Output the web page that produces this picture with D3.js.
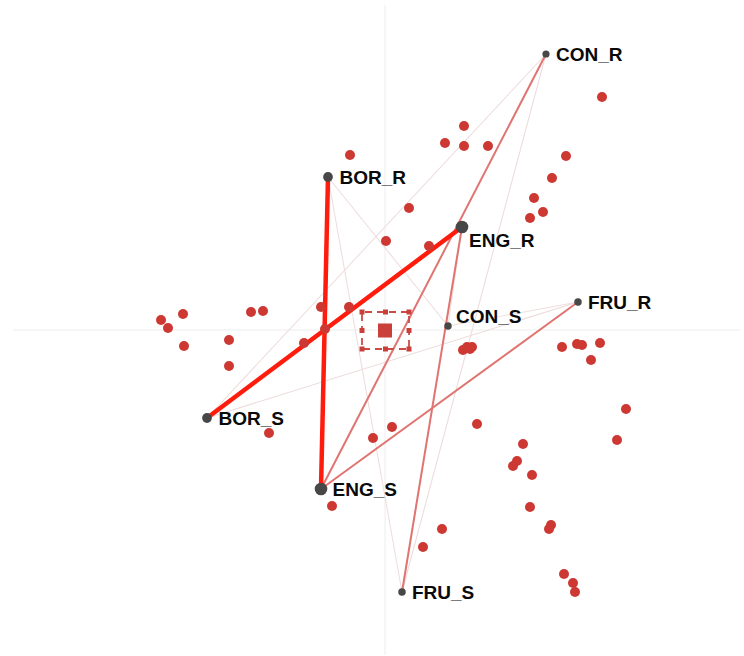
<!DOCTYPE html>
<html lang="en">
    <head>
        <meta charset="utf-8">
        <title>Biplot</title>
		<style>
			body {
				margin: 0;
				background: #fff;
			}
			.label {
				font-family: "Liberation Sans", Arial, sans-serif;
				font-weight: bold;
				font-size: 19px;
				fill: #0a0a0a;
			}
		</style>
        <script type="text/javascript" src="https://d3js.org/d3.v7.min.js"></script>
    </head>
    <body>
		<div id="chart"></div>
        <script type="text/javascript">

			// labelled variables
			var nodeNames  = ["CON_R", "BOR_R", "ENG_R", "FRU_R", "CON_S", "BOR_S", "ENG_S", "FRU_S"];
			var nodeX      = [1.61, -0.57, 0.77, 1.93, 0.63, -1.78, -0.64, 0.17];
			var nodeY      = [2.76, 1.53, 1.03, 0.28, 0.04, -0.88, -1.59, -2.62];
			var nodeWeight = [0.33, 0.6, 1.0, 0.35, 0.35, 0.6, 1.0, 0.35];

			// links between R and S variables
			var linkSource = ["BOR_R", "BOR_R", "BOR_R", "CON_R", "CON_R", "CON_R", "ENG_R", "ENG_R", "ENG_R", "FRU_R", "FRU_R", "FRU_R"];
			var linkTarget = ["CON_S", "ENG_S", "FRU_S", "BOR_S", "ENG_S", "FRU_S", "BOR_S", "CON_S", "FRU_S", "BOR_S", "CON_S", "ENG_S"];
			var linkWeight = [0.1, 1.0, 0.1, 0.1, 0.5, 0.12, 1.0, 0.08, 0.5, 0.12, 0.08, 0.5];

			// observations
			var pointX = [2.17, 0.79, 0.60, 0.79, 1.03, 1.81, 1.67, 1.49, 1.58, 1.45, 0.24, -0.35, 0.01, 0.44,
						  -1.34, -1.22, -0.64, -0.36, -0.60, -0.81, -1.56, -1.56, -1.16, -0.12, -2.24, -2.17, -2.02, -2.01,
						  0.82, 0.78, 0.85, 0.87, 0.07, 0.92, 1.77, 1.92, 1.97, 2.15, 2.06, 2.41, 2.32, 1.38,
						  1.32, 1.28, 1.47, 1.45, 1.66, 1.64, 1.79, 1.88, 1.90, -0.53, 0.57, 0.38];
			var pointY = [2.33, 2.04, 1.87, 1.84, 1.84, 1.74, 1.52, 1.32, 1.18, 1.12, 1.22, 1.75, 0.89, 0.84,
						  0.18, 0.19, 0.23, 0.23, 0.01, -0.13, -0.10, -0.36, -1.03, -1.08, 0.10, 0.02, 0.16, -0.16,
						  -0.17, -0.20, -0.19, -0.17, -0.97, -0.94, -0.17, -0.14, -0.15, -0.13, -0.30, -0.79, -1.10, -1.14,
						  -1.31, -1.36, -1.45, -1.77, -1.95, -1.99, -2.44, -2.53, -2.62, -1.76, -1.99, -2.17];

			// centroid
			var centerX = [0];
			var centerY = [0];

			var w = 744;
			var h = 656;

			var labelOffset = {ENG_R: [7, 20], CON_S: [8, -3]};

			var x = d3.scaleLinear().domain([-3.72, 3.55]).range([13, 740]);
			var y = d3.scaleLinear().domain([-3.25, 3.25]).range([655, 5]);

			var radius = d3.scaleSqrt().domain([0, 1]).range([0, 6.3]);
			var linkWidth = d3.scaleLinear().domain([0, 0.2, 0.5, 1]).range([1, 1.1, 2, 4.5]);
			var linkColor = d3.scaleLinear().domain([0, 0.2, 0.5, 1]).range(["#f1e6e6", "#ebd4d4", "#e07471", "#ff1c0c"]);

			var svg = d3.select('#chart')
						.append('svg')
						.attr('width', w)
						.attr('height', h);

			// axes through the origin
			svg.append('line')
				.attr('x1', x.range()[0]).attr('x2', x.range()[1])
				.attr('y1', y(0)).attr('y2', y(0))
				.attr('stroke', '#ededed').attr('stroke-width', 1);
			svg.append('line')
				.attr('x1', x(0)).attr('x2', x(0))
				.attr('y1', y.range()[1]).attr('y2', y.range()[0])
				.attr('stroke', '#ededed').attr('stroke-width', 1);

			var nodes = nodeNames.map(function(n, i) {
				return {name: n, x: nodeX[i], y: nodeY[i], weight: nodeWeight[i]};
			});
			var byName = {};
			nodes.forEach(function(d) { byName[d.name] = d; });

			var links = linkSource.map(function(s, i) {
				return {source: byName[s], target: byName[linkTarget[i]], weight: linkWeight[i]};
			});
			links.sort(function(a, b) { return a.weight - b.weight; });

			svg.selectAll('line.link')
				.data(links)
				.enter()
				.append('line')
				.attr('class', 'link')
				.attr('x1', function(d) { return x(d.source.x); })
				.attr('y1', function(d) { return y(d.source.y); })
				.attr('x2', function(d) { return x(d.target.x); })
				.attr('y2', function(d) { return y(d.target.y); })
				.attr('stroke', function(d) { return linkColor(d.weight); })
				.attr('stroke-width', function(d) { return linkWidth(d.weight); });

			// centroid marker with dashed selection box
			var cx = x(centerX[0]);
			var cy = y(centerY[0]);
			var box = svg.append('g').attr('transform', 'translate(' + cx + ',' + (cy + 0.5) + ')');
			box.append('rect')
				.attr('x', -23).attr('y', -18.5)
				.attr('width', 47).attr('height', 37)
				.attr('fill', 'none')
				.attr('stroke', '#d04a45')
				.attr('stroke-width', 1.8)
				.attr('stroke-dasharray', '7,5')
				.attr('stroke-dashoffset', -3);
			var handles = [[-23, -18.5], [0.5, -18.5], [24, -18.5], [-23, 0], [24, 0], [-23, 18.5], [0.5, 18.5], [24, 18.5]];
			box.selectAll('rect.handle')
				.data(handles)
				.enter()
				.append('rect')
				.attr('class', 'handle')
				.attr('x', function(d) { return d[0] - 2.5; })
				.attr('y', function(d) { return d[1] - 2.5; })
				.attr('width', 5).attr('height', 5)
				.attr('fill', '#c9403b');
			box.append('rect')
				.attr('x', -7).attr('y', -7)
				.attr('width', 14).attr('height', 14)
				.attr('fill', '#c9403b');

			// observations
			svg.selectAll('circle.point')
				.data(pointX)
				.enter()
				.append('circle')
				.attr('class', 'point')
				.attr('cx', function(d) { return x(d); })
				.attr('cy', function(d, i) { return y(pointY[i]); })
				.attr('r', 5)
				.attr('fill', '#cd3833');

			// variables
			svg.selectAll('circle.node')
				.data(nodes)
				.enter()
				.append('circle')
				.attr('class', 'node')
				.attr('cx', function(d) { return x(d.x); })
				.attr('cy', function(d) { return y(d.y); })
				.attr('r', function(d) { return radius(d.weight); })
				.attr('fill', '#474747');

			svg.selectAll('text.label')
				.data(nodes)
				.enter()
				.append('text')
				.attr('class', 'label')
				.attr('x', function(d) {
					var o = labelOffset[d.name] || [10, 7];
					return x(d.x) + o[0] + (d.weight > 0.5 && !labelOffset[d.name] ? 1.5 : 0);
				})
				.attr('y', function(d) {
					var o = labelOffset[d.name] || [10, 7];
					return y(d.y) + o[1];
				})
				.text(function(d) { return d.name; });

        </script>
    </body>
</html>
